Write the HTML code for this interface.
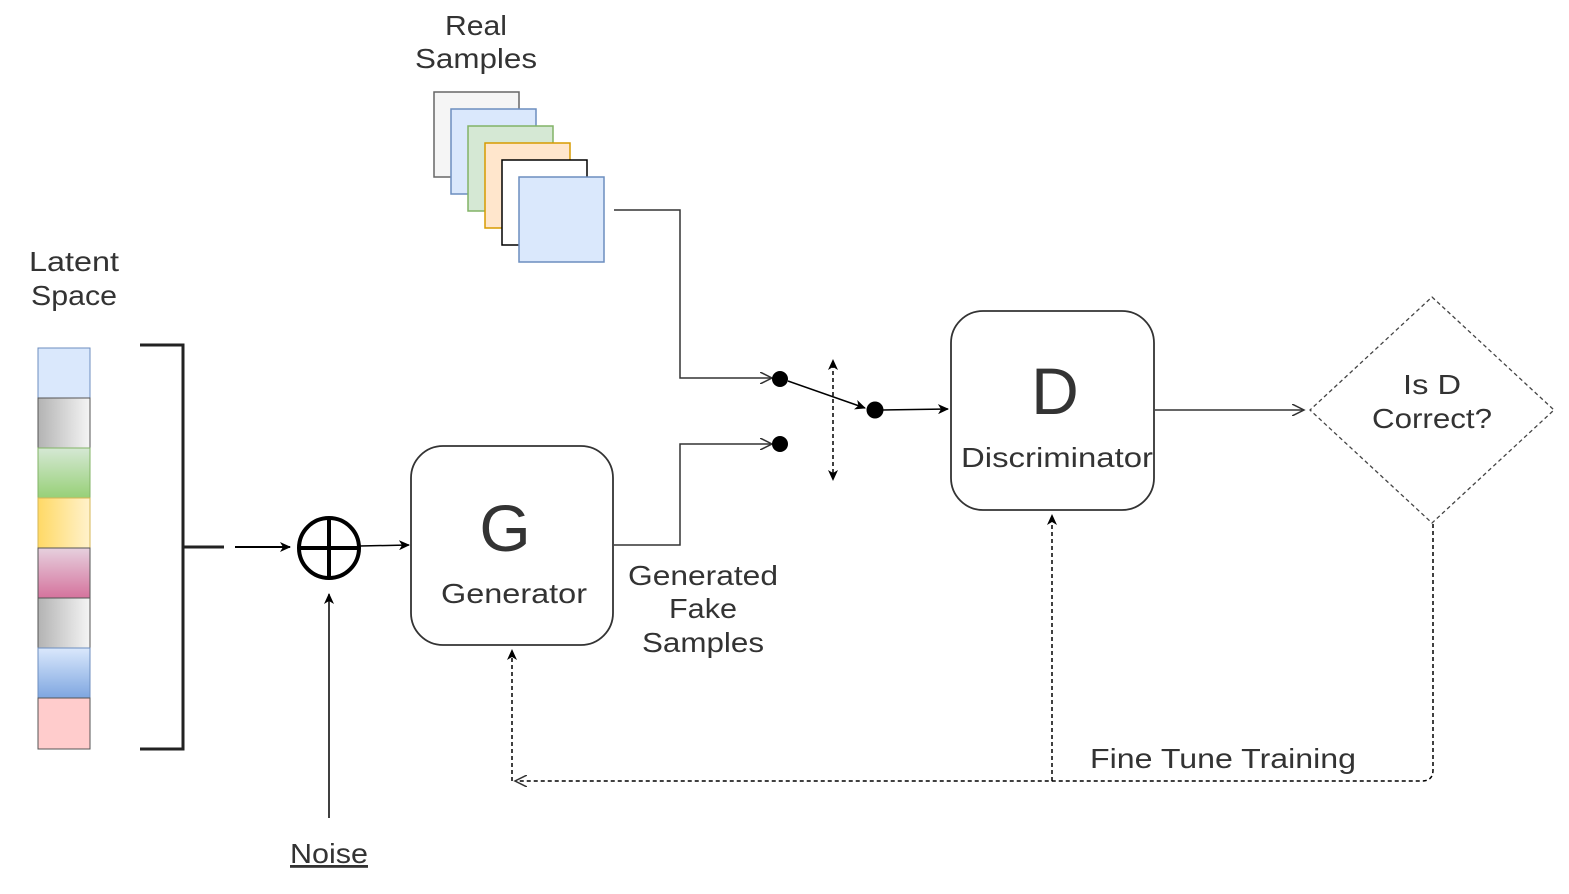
<!DOCTYPE html>
<html><head><meta charset="utf-8"><style>
html,body{margin:0;padding:0;background:#fff;}
svg{display:block;}
text{font-family:"Liberation Sans",sans-serif;fill:#333;}
</style></head><body>
<svg width="1569" height="894" viewBox="0 0 1569 894" xmlns="http://www.w3.org/2000/svg">
<defs>
<linearGradient id="gh" x1="0" y1="0" x2="1" y2="0"><stop offset="0" stop-color="#b3b3b3"/><stop offset="1" stop-color="#f5f5f5"/></linearGradient>
<linearGradient id="gg" x1="0" y1="0" x2="0" y2="1"><stop offset="0" stop-color="#d5e8d4"/><stop offset="1" stop-color="#97d077"/></linearGradient>
<linearGradient id="gy" x1="0" y1="0" x2="1" y2="0"><stop offset="0" stop-color="#ffd966"/><stop offset="1" stop-color="#fff2cc"/></linearGradient>
<linearGradient id="gp" x1="0" y1="0" x2="0" y2="1"><stop offset="0" stop-color="#e6d0de"/><stop offset="1" stop-color="#d5739d"/></linearGradient>
<linearGradient id="gb" x1="0" y1="0" x2="0" y2="1"><stop offset="0" stop-color="#dae8fc"/><stop offset="1" stop-color="#7ea6e0"/></linearGradient>
<marker id="a" markerWidth="12" markerHeight="10" refX="10" refY="5" orient="auto" markerUnits="userSpaceOnUse"><path d="M0,0 L11,5 L0,10 L3,5 z" fill="#000"/></marker>
<marker id="o" markerWidth="14" markerHeight="12" refX="12" refY="6" orient="auto" markerUnits="userSpaceOnUse"><path d="M0,0 L12,6 L0,12" fill="none" stroke="#333" stroke-width="1.5"/></marker>
<marker id="as" markerWidth="12" markerHeight="10" refX="6" refY="5" orient="auto-start-reverse" markerUnits="userSpaceOnUse"><path d="M0,0 L11,5 L0,10 L3,5 z" fill="#000"/></marker>
</defs>

<text x="476" y="35" font-size="28" text-anchor="middle" textLength="62" lengthAdjust="spacingAndGlyphs">Real</text>
<text x="476" y="68" font-size="28" text-anchor="middle" textLength="122" lengthAdjust="spacingAndGlyphs">Samples</text>
<text x="74" y="271" font-size="28" text-anchor="middle" textLength="90" lengthAdjust="spacingAndGlyphs">Latent</text>
<text x="74" y="305" font-size="28" text-anchor="middle" textLength="86" lengthAdjust="spacingAndGlyphs">Space</text>

<rect x="434" y="92" width="85" height="85" fill="#f5f5f5" stroke="#666" stroke-width="1.5"/>
<rect x="451" y="109" width="85" height="85" fill="#dae8fc" stroke="#6c8ebf" stroke-width="1.5"/>
<rect x="468" y="126" width="85" height="85" fill="#d5e8d4" stroke="#82b366" stroke-width="1.5"/>
<rect x="485" y="143" width="85" height="85" fill="#ffe6cc" stroke="#d79b00" stroke-width="1.5"/>
<rect x="502" y="160" width="85" height="85" fill="#fff" stroke="#000" stroke-width="1.5"/>
<rect x="519" y="177" width="85" height="85" fill="#dae8fc" stroke="#6c8ebf" stroke-width="1.5"/>

<g stroke="#555" stroke-width="1">
<rect x="38" y="348" width="52" height="50" fill="#dae8fc" stroke="#6c8ebf"/>
<rect x="38" y="398" width="52" height="50" fill="url(#gh)"/>
<rect x="38" y="448" width="52" height="50" fill="url(#gg)" stroke="#82b366"/>
<rect x="38" y="498" width="52" height="50" fill="url(#gy)" stroke="#d6b656"/>
<rect x="38" y="548" width="52" height="50" fill="url(#gp)"/>
<rect x="38" y="598" width="52" height="50" fill="url(#gh)"/>
<rect x="38" y="648" width="52" height="50" fill="url(#gb)" stroke="#6c8ebf"/>
<rect x="38" y="698" width="52" height="51" fill="#ffcccc"/>
</g>

<path d="M140,345 H183 V749 H140 M183,547 H224" fill="none" stroke="#222" stroke-width="3"/>
<line x1="235" y1="547" x2="290" y2="547" stroke="#000" stroke-width="2" marker-end="url(#a)"/>
<circle cx="329" cy="548" r="30" fill="none" stroke="#000" stroke-width="4"/>
<path d="M299,548 H359 M329,518 V578" stroke="#000" stroke-width="4"/>
<line x1="360" y1="546" x2="409" y2="545" stroke="#000" stroke-width="1.5" marker-end="url(#a)"/>
<line x1="329" y1="818" x2="329" y2="594" stroke="#000" stroke-width="1.5" marker-end="url(#a)"/>
<text x="329" y="863" font-size="28" text-anchor="middle" text-decoration="underline" textLength="78" lengthAdjust="spacingAndGlyphs">Noise</text>

<rect x="411" y="446" width="202" height="199" rx="32" fill="#fff" stroke="#333" stroke-width="1.8"/>
<text x="505" y="551" font-size="66" text-anchor="middle">G</text>
<text x="514" y="603" font-size="28" text-anchor="middle" textLength="146" lengthAdjust="spacingAndGlyphs">Generator</text>
<text x="703" y="585" font-size="28" text-anchor="middle" textLength="150" lengthAdjust="spacingAndGlyphs">Generated</text>
<text x="703" y="618" font-size="28" text-anchor="middle" textLength="68" lengthAdjust="spacingAndGlyphs">Fake</text>
<text x="703" y="652" font-size="28" text-anchor="middle" textLength="122" lengthAdjust="spacingAndGlyphs">Samples</text>

<path d="M614,210 H680 V378 H772" fill="none" stroke="#333" stroke-width="1.5" marker-end="url(#o)"/>
<path d="M614,545 H680 V444 H772" fill="none" stroke="#333" stroke-width="1.5" marker-end="url(#o)"/>
<circle cx="780" cy="379" r="8" fill="#000"/>
<circle cx="780" cy="444" r="8" fill="#000"/>
<line x1="788" y1="381" x2="865" y2="408" stroke="#000" stroke-width="1.5" marker-end="url(#a)"/>
<circle cx="875" cy="410" r="8.5" fill="#000"/>
<line x1="883" y1="410" x2="948" y2="409" stroke="#000" stroke-width="1.5" marker-end="url(#a)"/>
<line x1="833" y1="364" x2="833" y2="476" stroke="#000" stroke-width="1.5" stroke-dasharray="4,3" marker-start="url(#as)" marker-end="url(#as)"/>

<rect x="951" y="311" width="203" height="199" rx="32" fill="#fff" stroke="#333" stroke-width="1.8"/>
<text x="1055" y="414" font-size="66" text-anchor="middle">D</text>
<text x="1057" y="467" font-size="28" text-anchor="middle" textLength="192" lengthAdjust="spacingAndGlyphs">Discriminator</text>
<line x1="1155" y1="410" x2="1304" y2="410" stroke="#333" stroke-width="1.5" marker-end="url(#o)"/>

<path d="M1432,297 L1554,410 L1432,523 L1310,410 Z" fill="none" stroke="#444" stroke-width="1.3" stroke-dasharray="4,3" stroke-linejoin="round"/>
<text x="1432" y="394" font-size="28" text-anchor="middle" textLength="58" lengthAdjust="spacingAndGlyphs">Is D</text>
<text x="1432" y="428" font-size="28" text-anchor="middle" textLength="120" lengthAdjust="spacingAndGlyphs">Correct?</text>

<path d="M1433,524 V770 Q1433,781 1422,781 H515" fill="none" stroke="#000" stroke-width="1.5" stroke-dasharray="4,3" marker-end="url(#o)"/>
<line x1="512" y1="781" x2="512" y2="650" stroke="#000" stroke-width="1.5" stroke-dasharray="4,3" marker-end="url(#a)"/>
<line x1="1052" y1="781" x2="1052" y2="515" stroke="#000" stroke-width="1.5" stroke-dasharray="4,3" marker-end="url(#a)"/>
<text x="1223" y="768" font-size="28" text-anchor="middle" textLength="266" lengthAdjust="spacingAndGlyphs">Fine Tune Training</text>
</svg>
</body></html>
